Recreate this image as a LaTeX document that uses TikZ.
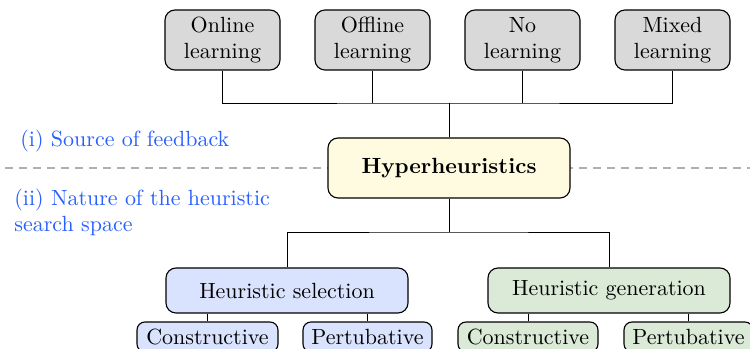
\documentclass[tikz,border=0pt]{standalone}
\usetikzlibrary{calc}
\newdimen\pxu \pxu=0.455pt
\definecolor{fbblue}{RGB}{40,95,255}
\definecolor{boxgray}{RGB}{217,217,217}
\definecolor{boxyellow}{RGB}{254,251,224}
\definecolor{boxblue}{RGB}{218,227,253}
\definecolor{boxgreen}{RGB}{218,234,215}
\definecolor{dashgray}{RGB}{176,176,176}
\tikzset{
  box/.style={draw=black, line width=0.5pt, rounded corners={10*\pxu}, align=center, inner sep=0pt, font=\normalsize},
  topbox/.style={box, fill=boxgray, minimum width={115*\pxu}, minimum height={60*\pxu}},
  hhbox/.style={box, fill=boxyellow, minimum width={242*\pxu}, minimum height={60*\pxu}, font=\bfseries},
  midbox/.style={box, minimum width={242*\pxu}, minimum height={45*\pxu}},
  subbox/.style={box, rounded corners={8*\pxu}, minimum height={30*\pxu}},
  conn/.style={draw=black, line width=0.45pt},
  lbl/.style={text=fbblue, inner sep=0pt, align=left}
}
\begin{document}
\begin{tikzpicture}[x=\pxu, y=-\pxu]
\useasboundingbox (0,0) rectangle (750,349);
% dashed separator
\coordinate (dl) at (5,168);
\coordinate (dr) at (750,168);
\draw[dashgray, line width=0.9pt, dash pattern=on {8*\pxu} off {6*\pxu}] (dl) -- (dr);
% top boxes
\node[topbox] (on) at (222.5,40) {Online\\learning};
\node[topbox] (of) at (372.5,40) {Offline\\learning};
\node[topbox] (no) at (522.5,40) {No\\learning};
\node[topbox] (mx) at (672.5,40) {Mixed\\learning};
% central
\node[hhbox] (hh) at (449,168) {Hyperheuristics};
% middle
\node[midbox, fill=boxblue] (sel) at (287,290.5) {Heuristic selection};
\node[midbox, fill=boxgreen] (gen) at (609,290.5) {Heuristic generation};
% sub boxes
\node[subbox, fill=boxblue, minimum width={141*\pxu}] (c1) at (207.5,337) {Constructive};
\node[subbox, fill=boxblue, minimum width={129*\pxu}] (p1) at (367.5,337) {Pertubative};
\node[subbox, fill=boxgreen, minimum width={140*\pxu}] (c2) at (528,337) {Constructive};
\node[subbox, fill=boxgreen, minimum width={129*\pxu}] (p2) at (688.5,337) {Pertubative};
% labels
\node[lbl, anchor=west] (l1) at (20,141) {(i) Source of feedback};
\node[lbl, anchor=west] (l2) at (14,212.5) {(ii) Nature of the heuristic\\search space};
% connectors top
\coordinate (jt) at (hh.north |- 0,103);
\draw[conn] (on.south) |- (jt) -| (mx.south);
\draw[conn] (of.south) -- (of.south |- jt);
\draw[conn] (no.south) -- (no.south |- jt);
\draw[conn] (jt) -- (hh.north);
% connectors bottom
\coordinate (jb) at (hh.south |- 0,232);
\draw[conn] (hh.south) -- (jb);
\draw[conn] (sel.north) |- (jb) -| (gen.north);
\draw[conn] (c1.north |- sel.south) -- (c1.north);
\draw[conn] (p1.north |- sel.south) -- (p1.north);
\draw[conn] (c2.north |- gen.south) -- (c2.north);
\draw[conn] (p2.north |- gen.south) -- (p2.north);
\end{tikzpicture}
\end{document}
